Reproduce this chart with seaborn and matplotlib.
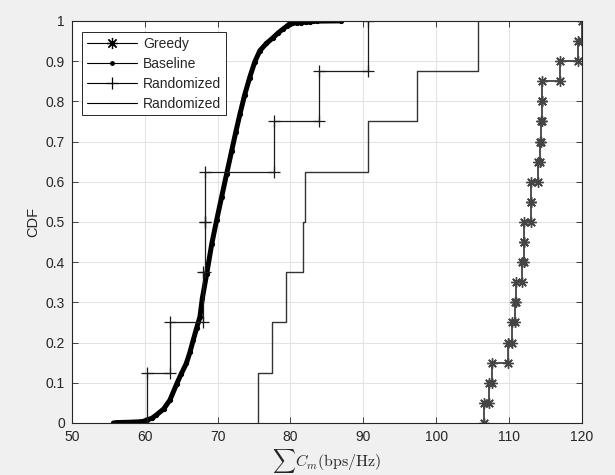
import numpy as np
import matplotlib
matplotlib.use("Agg")
import matplotlib.pyplot as plt
from matplotlib.lines import Line2D
import seaborn as sns

greedy = [106.6, 107.2, 107.7, 109.85, 110.35, 110.8, 111.0, 111.8, 112.05, 112.1,
          113.0, 113.05, 114.0, 114.2, 114.45, 114.55, 114.6, 117.0, 119.45, 120.0]
randomized_marked = [60.3, 63.5, 68.0, 68.2, 68.3, 77.7, 83.9, 90.7]
randomized_plain = [75.5, 77.45, 79.35, 81.7, 82.0, 90.6, 97.4, 105.8]

# baseline has ~1000 samples, so keep it as (x, cdf) pairs
baseline_x = [55.7, 56.1, 58.1, 59.25, 59.8, 60.25, 61.0, 61.6, 62.6, 63.45, 64.4, 65.0,
              65.7, 66.2, 66.65, 67.1, 67.57, 67.9, 68.5, 69.2, 69.86, 70.55, 71.24,
              71.93, 72.5, 73.06, 73.7, 74.4, 75.1, 75.8, 76.7, 77.6, 78.3, 79.0, 79.5,
              79.9, 80.2, 80.85, 81.5, 82.2, 82.7, 83.1, 83.6, 87.0]
baseline_cdf = [0.0, 0.001, 0.002, 0.003, 0.004, 0.007, 0.012, 0.02, 0.035, 0.057, 0.098,
                0.122, 0.148, 0.176, 0.206, 0.235, 0.264, 0.31, 0.371, 0.446, 0.504, 0.562,
                0.62, 0.677, 0.724, 0.768, 0.815, 0.859, 0.898, 0.926, 0.944, 0.958, 0.970,
                0.98, 0.987, 0.993, 0.994, 0.995, 0.996, 0.997, 0.998, 0.999, 0.9995, 1.0]

labels = ["Greedy", "Baseline", "Randomized", "Randomized"]

ASTERISK = (8, 2, 0)  # matlab '*' looks like + and x on top of each other


def stairs(samples):
    """Corner points of the ECDF staircase (like matlab cdfplot)."""
    x = np.sort(np.asarray(samples, dtype=float))
    n = len(x)
    levels = np.arange(n + 1) / n
    ys = np.empty(2 * n)
    ys[0::2] = levels[:-1]
    ys[1::2] = levels[1:]
    return np.repeat(x, 2), ys


sns.set_style("ticks")
plt.rcParams["font.family"] = ["Liberation Sans", "DejaVu Sans"]
plt.rcParams["mathtext.fontset"] = "cm"

fig = plt.figure(figsize=(6.15, 4.75), dpi=100, facecolor="#f0f0f0")
ax = fig.add_axes([0.117, 0.1095, 0.829, 0.8465])
ax.set_facecolor("white")

gx, gy = stairs(greedy)
sns.lineplot(x=gx, y=gy, sort=False, estimator=None, ax=ax, color="#202020", lw=1.1,
             marker=ASTERISK, markersize=7.5, markeredgecolor="#454545",
             markeredgewidth=1.0)

sns.lineplot(x=baseline_x, y=baseline_cdf, sort=False, estimator=None, ax=ax, color="black",
             lw=3.6, marker=".", markersize=6, markeredgecolor="black",
             markerfacecolor="black")

rx, ry = stairs(randomized_marked)
sns.lineplot(x=rx, y=ry, sort=False, estimator=None, ax=ax, color="#1a1a1a", lw=0.9,
             marker="+", markersize=9, markeredgewidth=0.9, markeredgecolor="#1a1a1a")

px, py = stairs(randomized_plain)
sns.lineplot(x=px, y=py, sort=False, estimator=None, ax=ax, color="#333333", lw=1.0)

ax.set_xlim(50, 120)
ax.set_ylim(0, 1)
ax.set_xticks(np.arange(50, 121, 10))
ax.set_yticks(np.arange(0, 1.01, 0.1))
ax.set_yticklabels(["0"] + [f"{v:.1f}" for v in np.arange(0.1, 0.95, 0.1)] + ["1"])
ax.grid(True, color="#e3e3e3", lw=0.8)
ax.set_axisbelow(True)
ax.tick_params(direction="in", length=4, width=0.6, colors="#262626", labelsize=10,
               top=True, right=True, pad=5)
for sp in ax.spines.values():
    sp.set_visible(True)
    sp.set_color("#262626")
    sp.set_linewidth(0.8)

ax.set_xlabel(r"$\sum C_m\mathrm{(bps/Hz)}$", fontsize=11.5, color="#262626", labelpad=2)
ax.set_ylabel("CDF", fontsize=10.5, color="#262626", labelpad=4)

# matlab-like legend: thin lines with the markers
handles = [
    Line2D([], [], color="black", lw=0.8, marker=ASTERISK, markersize=8, markeredgewidth=0.9),
    Line2D([], [], color="black", lw=0.8, marker=".", markersize=5),
    Line2D([], [], color="black", lw=0.8, marker="+", markersize=9, markeredgewidth=0.9),
    Line2D([], [], color="black", lw=0.8),
]
leg = ax.legend(handles, labels, loc="upper left", bbox_to_anchor=(0.02, 0.972),
                borderaxespad=0, fontsize=10, handlelength=3.6, handletextpad=0.45,
                labelspacing=0.42, borderpad=0.35, fancybox=False, framealpha=1,
                edgecolor="#262626")
leg.get_frame().set_linewidth(0.7)

fig.savefig("out.png", dpi=100, facecolor=fig.get_facecolor())
